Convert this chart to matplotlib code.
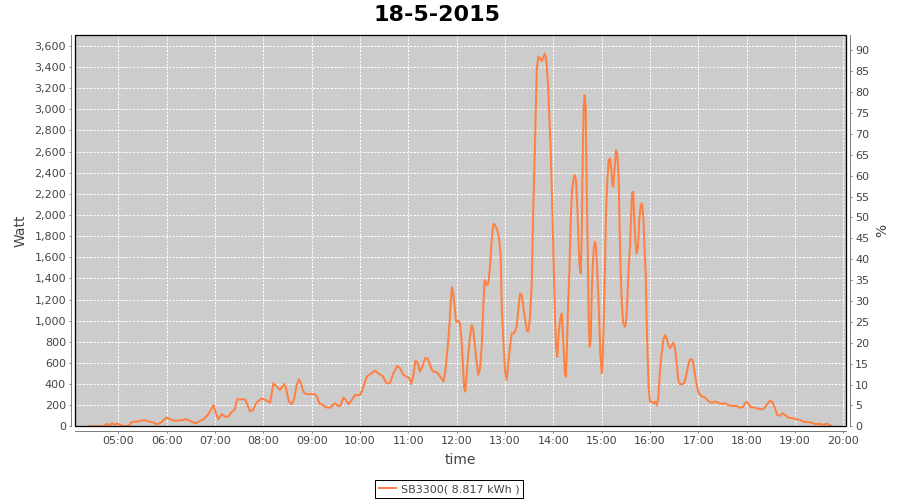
import matplotlib
matplotlib.use("Agg")
import matplotlib.pyplot as plt
from matplotlib.patches import Rectangle
from matplotlib.ticker import FuncFormatter, MultipleLocator

title = "18-5-2015"
series_label = "SB3300( 8.817 kWh )"
x_ticks = list(range(5, 21))
x_tick_labels = ["%02d:00" % h for h in x_ticks]

hours = [4.38, 4.70, 4.76, 4.82, 4.88, 4.93, 4.98, 5.04, 5.10, 5.22, 5.27, 5.33, 5.42, 5.48,
         5.56, 5.63, 5.72, 5.79, 5.86, 5.93, 5.99, 6.06, 6.14, 6.25, 6.33, 6.40, 6.48, 6.59,
         6.66, 6.76, 6.86, 6.97, 7.02, 7.07, 7.14, 7.21, 7.28, 7.35, 7.41, 7.46, 7.62, 7.66,
         7.72, 7.78, 7.86, 7.97, 8.07, 8.14, 8.21, 8.28, 8.35, 8.43, 8.47, 8.53, 8.59, 8.64,
         8.69, 8.74, 8.78, 8.83, 8.88, 9.07, 9.11, 9.16, 9.24, 9.31, 9.38, 9.48, 9.55, 9.59,
         9.66, 9.71, 9.76, 9.83, 9.90, 10.00, 10.05, 10.14, 10.21, 10.31, 10.38, 10.48, 10.55,
         10.62, 10.69, 10.77, 10.83, 10.90, 10.97, 11.02, 11.06, 11.10, 11.15, 11.20, 11.24,
         11.29, 11.35, 11.40, 11.45, 11.50, 11.59, 11.66, 11.73, 11.77, 11.81, 11.85, 11.88,
         11.905, 11.93, 11.96, 11.99, 12.035, 12.07, 12.105, 12.126, 12.153, 12.18, 12.21,
         12.236, 12.277, 12.312, 12.345, 12.381, 12.416, 12.449, 12.484, 12.519, 12.552,
         12.581, 12.623, 12.656, 12.691, 12.726, 12.759, 12.794, 12.842, 12.883, 12.912,
         12.933, 12.966, 13.001, 13.036, 13.069, 13.105, 13.140, 13.188, 13.243, 13.276,
         13.312, 13.347, 13.380, 13.415, 13.450, 13.484, 13.519, 13.554, 13.587, 13.622,
         13.657, 13.690, 13.725, 13.760, 13.794, 13.829, 13.864, 13.897, 13.918, 13.947,
         13.968, 14.001, 14.030, 14.056, 14.083, 14.112, 14.139, 14.174, 14.195, 14.216,
         14.236, 14.257, 14.278, 14.305, 14.332, 14.361, 14.388, 14.415, 14.444, 14.471,
         14.497, 14.526, 14.547, 14.568, 14.588, 14.609, 14.630, 14.650, 14.671, 14.692,
         14.712, 14.733, 14.754, 14.774, 14.795, 14.816, 14.836, 14.863, 14.884, 14.905,
         14.932, 14.953, 14.973, 15.002, 15.023, 15.043, 15.070, 15.091, 15.118, 15.147,
         15.174, 15.201, 15.221, 15.242, 15.271, 15.298, 15.325, 15.354, 15.375, 15.395,
         15.422, 15.449, 15.484, 15.511, 15.532, 15.561, 15.588, 15.608, 15.629, 15.656,
         15.677, 15.697, 15.726, 15.753, 15.780, 15.809, 15.836, 15.863, 15.892, 15.912,
         15.933, 15.954, 15.974, 16.001, 16.036, 16.070, 16.105, 16.140, 16.173, 16.208,
         16.243, 16.277, 16.312, 16.347, 16.380, 16.415, 16.450, 16.484, 16.519, 16.554,
         16.587, 16.622, 16.664, 16.705, 16.746, 16.794, 16.829, 16.871, 16.897, 16.932,
         16.968, 17.001, 17.036, 17.092, 17.139, 17.187, 17.243, 17.299, 17.346, 17.415,
         17.485, 17.553, 17.622, 17.692, 17.795, 17.864, 17.920, 17.967, 18.002, 18.035,
         18.085, 18.139, 18.209, 18.277, 18.346, 18.416, 18.484, 18.540, 18.588, 18.635,
         18.691, 18.747, 18.795, 18.863, 18.967, 19.037, 19.105, 19.173, 19.277, 19.347,
         19.415, 19.519, 19.587, 19.657, 19.726, 19.761]

watts = [0, 0, 22, 12, 28, 12, 28, 12, 3, 3, 38, 44, 44, 57,
         57, 44, 38, 20, 28, 55, 82, 70, 54, 54, 58, 69, 52, 28,
         42, 66, 113, 200, 123, 66, 117, 91, 92, 138, 160, 255, 255, 218,
         145, 150, 224, 265, 243, 224, 407, 375, 343, 400, 360, 233, 211, 263,
         391, 445, 406, 327, 305, 305, 280, 217, 200, 179, 176, 217, 192, 192,
         271, 249, 208, 249, 296, 296, 343, 470, 492, 527, 501, 470, 407,
         407, 501, 571, 549, 486, 470, 455, 400, 470, 620, 596, 517,
         565, 643, 643, 580, 523, 511, 470, 423, 533, 722, 943, 1195,
         1315, 1258, 1132, 990, 997, 975, 801, 628, 375, 328, 501,
         659, 848, 959, 912, 754, 596, 486, 549, 754, 1132,
         1384, 1337, 1353, 1510, 1763, 1915, 1905, 1858, 1763, 1605,
         1132, 817, 533, 438, 596, 754, 880, 880, 943, 1100,
         1258, 1242, 1132, 1021, 912, 896, 1037, 1353, 2078, 2677,
         3371, 3497, 3481, 3459, 3497, 3529, 3434, 3182, 2929, 2614,
         2267, 1668, 1132, 754, 659, 880, 1006, 1069, 912, 722,
         533, 470, 659, 1132, 1447, 1952, 2236, 2330, 2377, 2330,
         2078, 1700, 1510, 1447, 1763, 2551, 3024, 3135, 3024, 2236,
         1700, 975, 754, 817, 1258, 1510, 1668, 1747, 1700, 1510,
         1258, 975, 691, 501, 659, 975, 1510, 2015, 2330, 2519,
         2535, 2425, 2299, 2267, 2456, 2614, 2582, 2330, 1826, 1447,
         1132, 975, 943, 1006, 1195, 1510, 1700, 1952, 2204, 2220,
         1952, 1763, 1636, 1700, 1952, 2094, 2110, 1984, 1636, 1447,
         980, 628, 375, 233, 233, 217, 234, 200, 265, 533,
         691, 817, 864, 833, 770, 738, 770, 791, 738, 596,
         438, 400, 400, 406, 470, 580, 634, 634, 596, 486,
         391, 328, 296, 280, 274, 249, 227, 224, 234, 224,
         211, 218, 202, 192, 192, 176, 180, 218, 234, 215,
         180, 180, 170, 161, 161, 202, 243, 225, 170, 107,
         100, 123, 107, 82, 76, 66, 60, 44, 38, 35,
         22, 22, 13, 25, 9, 3]

line_color = "#FF8040"
tick_color = "#444444"
axis_color = "#808080"
px = 72.0 / 100.0  # points per pixel

fig = plt.figure(figsize=(9, 5), dpi=100)
fig.patch.set_facecolor("white")
ax = fig.add_axes([75.3 / 900, 73.7 / 500, 770.7 / 900, 391 / 500])
ax.set_facecolor("#CCCCCC")

ln, = ax.plot(hours, watts, color=line_color, lw=2.0 * px, label=series_label, zorder=3)

ax.set_xlim(4.11, 20.057)
ax.set_ylim(0, 3701)
ax.set_xticks(x_ticks)
ax.set_xticklabels(x_tick_labels)
ax.yaxis.set_major_locator(MultipleLocator(200))
ax.yaxis.set_major_formatter(FuncFormatter(lambda v, p: "{:,.0f}".format(v)))

ax.grid(True, color="white", lw=1.0 * px, linestyle=(0, (3 * px, 2 * px)))
ax.set_axisbelow(True)

for s in ["top", "right"]:
    ax.spines[s].set_visible(False)
ax.spines["left"].set_position(("outward", 4 * px))
ax.spines["bottom"].set_position(("outward", 4.4 * px))
for s in ["left", "bottom"]:
    ax.spines[s].set_color(axis_color)
    ax.spines[s].set_linewidth(1.0 * px)
ax.tick_params(axis="both", colors=axis_color, labelcolor=tick_color, labelsize=8,
               length=2.5 * px, width=1.0 * px, pad=2)

ax2 = ax.twinx()
ax2.set_ylim(0, 93.6)
ax2.yaxis.set_major_locator(MultipleLocator(5))
for s in ["top", "left", "bottom"]:
    ax2.spines[s].set_visible(False)
ax2.spines["right"].set_position(("outward", 4 * px))
ax2.spines["right"].set_color(axis_color)
ax2.spines["right"].set_linewidth(1.0 * px)
ax2.tick_params(axis="y", colors=axis_color, labelcolor=tick_color, labelsize=8,
                length=2.5 * px, width=1.0 * px, pad=2)

ax.add_patch(Rectangle((0, 0), 1, 1, transform=ax.transAxes, fill=False,
                       edgecolor="black", lw=1.3 * px, zorder=5, clip_on=False))

ax.set_ylabel("Watt", fontsize=10, color=tick_color, labelpad=5)
ax2.set_ylabel("%", fontsize=10, color=tick_color, labelpad=4)
ax.set_xlabel("time", fontsize=10, color=tick_color, labelpad=5)
fig.text(437 / 900, 1 - 15 / 500, title, ha="center", va="center",
         fontsize=16, fontweight="bold", color="black")

leg = fig.legend(handles=[ln], loc="lower center", bbox_to_anchor=(449 / 900, 2 / 500),
                 fontsize=8, frameon=True, fancybox=False, framealpha=1,
                 edgecolor="black", handlelength=1.6, handletextpad=0.4,
                 borderpad=0.35, borderaxespad=0)
leg.get_frame().set_linewidth(1.0 * px)
for t in leg.get_texts():
    t.set_color(tick_color)

fig.savefig("out.png", dpi=100)
